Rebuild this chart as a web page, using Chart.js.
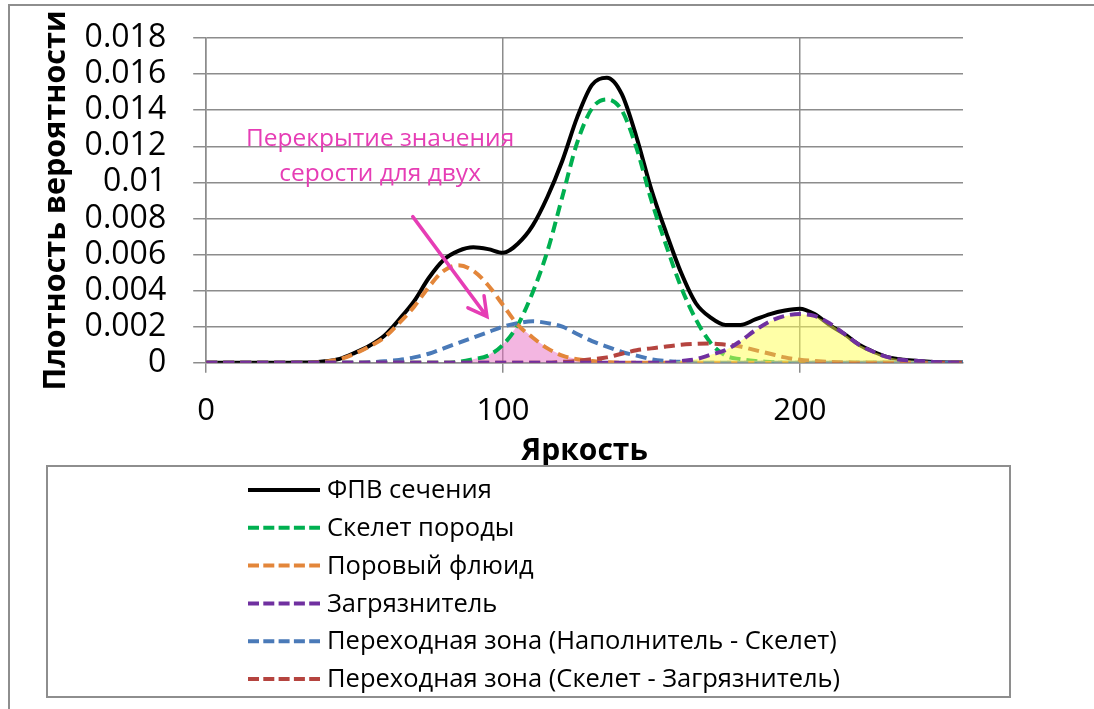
<!DOCTYPE html>
<html lang="ru">
<head>
<meta charset="utf-8">
<title>ФПВ сечения</title>
<script src="https://cdn.jsdelivr.net/npm/chart.js@4.4.1/dist/chart.umd.min.js"></script>
<style>
  html, body { margin: 0; padding: 0; background: #fff; }
  canvas { display: block; }
</style>
</head>
<body>
<canvas id="chart" width="1094" height="709"></canvas>
<script>
// brightness, step 5
var brightness = [0,5,10,15,20,25,30,35,40,45,50,55,60,65,70,75,80,85,90,95,100,105,110,115,120,125,130,135,140,145,150,155,160,165,170,175,180,185,190,195,200,205,210,215,220,225,230,235,240,245,250,255];

// values
var totalPdf =   [0,0,0,0,0,0,0.00001,0.00002,0.00008,0.00022,0.00055,0.00095,0.0015,0.0024,0.0034,0.0047,0.0057,0.0062,0.0064,0.0063,0.0061,0.0066,0.0076,0.0092,0.0112,0.0136,0.0154,0.0158,0.0149,0.0125,0.0096,0.0072,0.0050,0.0033,0.0025,0.0021,0.0021,0.0024,0.0027,0.0029,0.0030,0.0027,0.0021,0.0016,0.0010,0.0006,0.0003,0.00017,0.0001,0.00005,0.00002,0.00001];
var skeleton =   [0,0,0,0,0,0,0,0,0,0,0,0,0,0,0,0,0,0.00005,0.0002,0.0004,0.001,0.0021,0.0039,0.0062,0.0092,0.0122,0.0141,0.0146,0.0140,0.0119,0.0090,0.0065,0.0042,0.0024,0.0011,0.0004,0.0002,0.0001,0.00005,0,0,0,0,0,0,0,0,0,0,0,0,0];
var poreFluid =  [0,0,0,0,0,0,0,0,0.00006,0.0002,0.0005,0.0009,0.0014,0.0022,0.0031,0.0042,0.0051,0.0054,0.0051,0.0043,0.0032,0.0021,0.0014,0.0008,0.0004,0.0002,0.0001,0.00004,0,0,0,0,0,0,0,0,0,0,0,0,0,0,0,0,0,0,0,0,0,0,0,0];
var contaminant =[0,0,0,0,0,0,0,0,0,0,0,0,0,0,0,0,0,0,0,0,0,0,0,0,0,0,0,0,0,0,0,0,0.0001,0.0002,0.00045,0.0007,0.0012,0.0018,0.0023,0.0026,0.0027,0.0026,0.0022,0.0016,0.0010,0.0006,0.0003,0.00015,0.0001,0.00005,0.00002,0.00001];
var zoneFillerSkel = [0,0,0,0,0,0,0,0,0,0,0,0.00003,0.00008,0.00016,0.0003,0.0005,0.0008,0.0011,0.0014,0.0017,0.0020,0.0022,0.0023,0.0022,0.0020,0.0016,0.0012,0.0009,0.0006,0.0004,0.0002,0.0001,0.00005,0,0,0,0,0,0,0,0,0,0,0,0,0,0,0,0,0,0,0];
var zoneSkelCont =   [0,0,0,0,0,0,0,0,0,0,0,0,0,0,0,0,0,0,0,0,0,0,0,0,0.00005,0.0001,0.0002,0.0003,0.0005,0.0007,0.0008,0.0009,0.0010,0.00105,0.00107,0.0010,0.0009,0.0007,0.0005,0.0003,0.00017,0.0001,0.00005,0.00002,0,0,0,0,0,0,0,0];
// pink area: overlap of skeleton and pore fluid
var overlap =    [0,0,0,0,0,0,0,0,0,0,0,0,0,0,0,0,0,0,0.0002,0.0004,0.001,0.0021,0.0014,0.0008,0.0004,0.0002,0.0001,0.00004,0,0,0,0,0,0,0,0,0,0,0,0,0,0,0,0,0,0,0,0,0,0,0,0];

var yTicks = { min: 0, max: 0.018, step: 0.002 };
var xTicks = { min: 0, max: 255, step: 100 };

var FONT = "'Open Sans', 'Noto Sans', sans-serif";

function pts(ys) {
    return brightness.map(function (x, i) { return { x: x, y: ys[i] }; });
}

function line(label, ys, color, dashed, order) {
    return {
        label: label,
        data: pts(ys),
        borderColor: color,
        backgroundColor: color,
        borderWidth: 4,
        borderDash: dashed ? [11, 6] : [],
        pointRadius: 0,
        fill: false,
        cubicInterpolationMode: 'monotone',
        order: order
    };
}

function area(ys, color, order) {
    return {
        label: '',
        areaOnly: true,
        data: pts(ys),
        borderWidth: 0,
        borderColor: 'rgba(0,0,0,0)',
        backgroundColor: color,
        pointRadius: 0,
        fill: 'origin',
        tension: 0,
        order: order
    };
}

/* ======= white page + outer frame ======= */
var framePlugin = {
    id: 'frame',
    beforeDraw: function (chart) {
        var ctx = chart.ctx;
        ctx.save();
        ctx.fillStyle = '#fff';
        ctx.fillRect(0, 0, chart.width, chart.height);
        ctx.strokeStyle = '#8e8e8e';
        ctx.lineWidth = 2;
        ctx.beginPath();
        ctx.moveTo(9, chart.height);
        ctx.lineTo(9, 5);
        ctx.lineTo(chart.width, 5);
        ctx.stroke();
        ctx.restore();
    }
};

/* ======= note with arrow ======= */
var notePlugin = {
    id: 'note',
    afterDatasetsDraw: function (chart, args, o) {
        var ctx = chart.ctx, sx = chart.scales.x, sy = chart.scales.y;
        ctx.save();
        ctx.fillStyle = o.color;
        ctx.font = o.size + 'px ' + FONT;
        ctx.textAlign = 'center';
        ctx.textBaseline = 'middle';
        o.lines.forEach(function (t, i) {
            ctx.fillText(t, sx.getPixelForValue(o.textX), sy.getPixelForValue(o.textY[i]));
        });
        var x0 = sx.getPixelForValue(o.from[0]), y0 = sy.getPixelForValue(o.from[1]);
        var x1 = sx.getPixelForValue(o.to[0]), y1 = sy.getPixelForValue(o.to[1]);
        var a = Math.atan2(y1 - y0, x1 - x0);
        ctx.strokeStyle = o.color;
        ctx.lineWidth = 3.5;
        ctx.lineCap = 'round';
        ctx.beginPath();
        ctx.moveTo(x0, y0);
        ctx.lineTo(x1, y1);
        ctx.moveTo(x1 - 21 * Math.cos(a - 0.5), y1 - 21 * Math.sin(a - 0.5));
        ctx.lineTo(x1, y1);
        ctx.lineTo(x1 - 21 * Math.cos(a + 0.5), y1 - 21 * Math.sin(a + 0.5));
        ctx.stroke();
        ctx.restore();
    }
};

/* ======= boxed legend below the plot ======= */
var boxLegend = {
    id: 'boxLegend',
    afterDraw: function (chart, args, o) {
        var ctx = chart.ctx;
        ctx.save();
        ctx.strokeStyle = '#8e8e8e';
        ctx.lineWidth = 2;
        ctx.strokeRect(o.left, o.top, o.width, o.height);
        var items = chart.data.datasets.filter(function (d) { return !d.areaOnly; });
        ctx.font = o.size + 'px ' + FONT;
        ctx.textBaseline = 'middle';
        items.forEach(function (ds, i) {
            var y = o.top + o.firstRow + i * o.rowStep;
            ctx.beginPath();
            ctx.setLineDash(ds.borderDash.length ? [11, 4.3] : []);
            ctx.strokeStyle = ds.borderColor;
            ctx.lineWidth = 4;
            ctx.moveTo(o.lineX, y);
            ctx.lineTo(o.lineX + o.lineLen, y);
            ctx.stroke();
            ctx.setLineDash([]);
            ctx.fillStyle = '#000';
            ctx.fillText(ds.label, o.textX, y + 1);
        });
        ctx.restore();
    }
};

var ctx = document.getElementById('chart');

var graph = new Chart(ctx, {
    type: 'line',
    data: {
        datasets: [
            line('ФПВ сечения', totalPdf, '#000000', false, 7),
            line('Скелет породы', skeleton, '#00B050', true, 6),
            line('Поровый флюид', poreFluid, '#E3863A', true, 5),
            line('Загрязнитель', contaminant, '#7030A0', true, 2),
            line('Переходная зона (Наполнитель - Скелет)', zoneFillerSkel, '#4A7AB8', true, 4),
            line('Переходная зона (Скелет - Загрязнитель)', zoneSkelCont, '#B5443F', true, 3),
            area(overlap, 'rgba(232,110,195,0.5)', 8),
            area(contaminant, 'rgba(255,255,80,0.5)', 2.5)
        ]
    },
    plugins: [framePlugin, notePlugin, boxLegend],
    options: {
        responsive: false,
        animation: false,
        devicePixelRatio: 1,
        layout: { padding: { left: 38, top: 38, right: 131, bottom: 236 } },
        plugins: {
            legend: { display: false },
            tooltip: { enabled: false },
            note: {
                color: '#E63DB5',
                size: 24.5,
                lines: ['Перекрытие значения', 'серости для двух'],
                textX: 58.6,
                textY: [0.0124, 0.01044],
                from: [69.6, 0.0081],
                to: [94.6, 0.00256]
            },
            boxLegend: {
                left: 47, top: 466, width: 963, height: 231,
                firstRow: 24, rowStep: 37.8,
                lineX: 248, lineLen: 72, textX: 327, size: 25.5
            }
        },
        scales: {
            x: {
                type: 'linear',
                min: xTicks.min,
                max: xTicks.max,
                ticks: {
                    stepSize: xTicks.step,
                    includeBounds: false,
                    maxRotation: 0,
                    padding: 20,
                    color: '#000',
                    font: { family: FONT, size: 31 }
                },
                grid: { color: '#8c8c8c', lineWidth: 1.5, tickLength: 10 },
                border: { color: '#8c8c8c', width: 1.5 },
                title: {
                    display: true,
                    text: 'Яркость',
                    color: '#000',
                    font: { family: FONT, size: 30, weight: 'bold' },
                    padding: { top: -17, bottom: 4 }
                }
            },
            y: {
                min: yTicks.min,
                max: yTicks.max,
                afterFit: function (s) { s.paddingTop = 0; s.paddingBottom = 0; },
                ticks: {
                    stepSize: yTicks.step,
                    autoSkip: false,
                    padding: 27,
                    color: '#000',
                    font: { family: FONT, size: 32 },
                    callback: function (v) { return String(+v.toFixed(3)); }
                },
                grid: { color: '#8c8c8c', lineWidth: 1.5, tickLength: 13 },
                border: { color: '#8c8c8c', width: 1.5 },
                title: {
                    display: true,
                    text: 'Плотность вероятности',
                    color: '#000',
                    font: { family: FONT, size: 30.5, weight: 'bold' },
                    padding: { top: 0, bottom: -17 }
                }
            }
        }
    }
});
</script>
</body>
</html>
